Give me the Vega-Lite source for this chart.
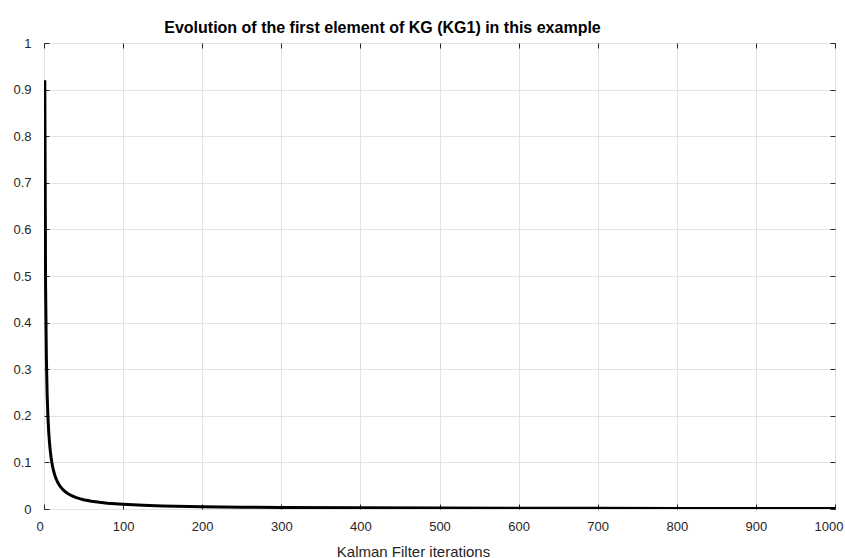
{
  "$schema": "https://vega.github.io/schema/vega-lite/v6.json",
  "width": 791,
  "height": 466,
  "autosize": {"type": "none"},
  "padding": {"left": 44, "top": 43, "right": 10, "bottom": 49},
  "background": "white",
  "title": {
    "text": "Evolution of the first element of KG (KG1) in this example",
    "font": "Liberation Sans",
    "fontSize": 16,
    "fontWeight": "bold",
    "color": "#000000",
    "anchor": "middle",
    "dx": -57,
    "offset": 1
  },
  "config": {
    "view": {"stroke": "#262626", "strokeWidth": 1},
    "axis": {
      "labelFont": "Liberation Sans",
      "titleFont": "Liberation Sans",
      "labelFontSize": 13,
      "titleFontSize": 15,
      "labelColor": "#262626",
      "titleColor": "#262626",
      "titleFontWeight": "normal",
      "domainColor": "#262626",
      "tickColor": "#262626",
      "gridColor": "#e3e3e3",
      "gridOpacity": 1
    }
  },
  "data": {
    "values": [
      {"k": 1, "kg1": 0.920},
      {"k": 2, "kg1": 0.4792},
      {"k": 3, "kg1": 0.3237},
      {"k": 4, "kg1": 0.2447},
      {"k": 5, "kg1": 0.1966},
      {"k": 6, "kg1": 0.1643},
      {"k": 7, "kg1": 0.1411},
      {"k": 8, "kg1": 0.1237},
      {"k": 9, "kg1": 0.1101},
      {"k": 10, "kg1": 0.0992},
      {"k": 11, "kg1": 0.0902},
      {"k": 12, "kg1": 0.0826},
      {"k": 13, "kg1": 0.0764},
      {"k": 14, "kg1": 0.0709},
      {"k": 15, "kg1": 0.0663},
      {"k": 16, "kg1": 0.0622},
      {"k": 17, "kg1": 0.0585},
      {"k": 18, "kg1": 0.0553},
      {"k": 19, "kg1": 0.0524},
      {"k": 20, "kg1": 0.0498},
      {"k": 22, "kg1": 0.0453},
      {"k": 24, "kg1": 0.0415},
      {"k": 27, "kg1": 0.0369},
      {"k": 30, "kg1": 0.0332},
      {"k": 35, "kg1": 0.0285},
      {"k": 40, "kg1": 0.0249},
      {"k": 45, "kg1": 0.0222},
      {"k": 50, "kg1": 0.0200},
      {"k": 60, "kg1": 0.0166},
      {"k": 70, "kg1": 0.0143},
      {"k": 80, "kg1": 0.0125},
      {"k": 90, "kg1": 0.0111},
      {"k": 100, "kg1": 0.0100},
      {"k": 125, "kg1": 0.0080},
      {"k": 150, "kg1": 0.0067},
      {"k": 200, "kg1": 0.0050},
      {"k": 250, "kg1": 0.0040},
      {"k": 300, "kg1": 0.0033},
      {"k": 400, "kg1": 0.0025},
      {"k": 500, "kg1": 0.0020},
      {"k": 600, "kg1": 0.0017},
      {"k": 700, "kg1": 0.0014},
      {"k": 800, "kg1": 0.00125},
      {"k": 900, "kg1": 0.0011},
      {"k": 1000, "kg1": 0.0010}
    ]
  },
  "layer": [
    {
      "mark": {"type": "line", "color": "#000000", "strokeWidth": 3, "clip": true},
      "encoding": {
        "x": {
          "field": "k",
          "type": "quantitative",
          "scale": {"domain": [0, 1000], "nice": false},
          "axis": {
            "orient": "bottom",
            "title": "Kalman Filter iterations",
            "titleX": 369,
            "values": [0, 100, 200, 300, 400, 500, 600, 700, 800, 900, 1000],
            "format": "d",
            "grid": true,
            "domain": false,
            "tickSize": -5,
            "labelPadding": 16,
            "titlePadding": 11,
            "labelFlush": true,
            "labelFlushOffset": 8
          }
        },
        "y": {
          "field": "kg1",
          "type": "quantitative",
          "scale": {"domain": [0, 1], "nice": false},
          "axis": {
            "orient": "left",
            "title": null,
            "values": [0, 0.1, 0.2, 0.3, 0.4, 0.5, 0.6, 0.7, 0.8, 0.9, 1],
            "format": "~g",
            "grid": true,
            "domain": false,
            "tickSize": -5,
            "labelPadding": 18,
            "labelFlush": false
          }
        }
      }
    },
    {
      "mark": {"type": "point", "opacity": 0},
      "encoding": {
        "x": {
          "field": "k",
          "type": "quantitative",
          "scale": {"domain": [0, 1000], "nice": false},
          "axis": {
            "orient": "top",
            "title": null,
            "values": [0, 100, 200, 300, 400, 500, 600, 700, 800, 900, 1000],
            "labels": false,
            "grid": false,
            "domain": false,
            "tickSize": -5
          }
        },
        "y": {
          "field": "kg1",
          "type": "quantitative",
          "scale": {"domain": [0, 1], "nice": false},
          "axis": {
            "orient": "right",
            "title": null,
            "values": [0, 0.1, 0.2, 0.3, 0.4, 0.5, 0.6, 0.7, 0.8, 0.9, 1],
            "labels": false,
            "grid": false,
            "domain": false,
            "tickSize": -5
          }
        }
      }
    }
  ],
  "resolve": {"axis": {"x": "independent", "y": "independent"}}
}
